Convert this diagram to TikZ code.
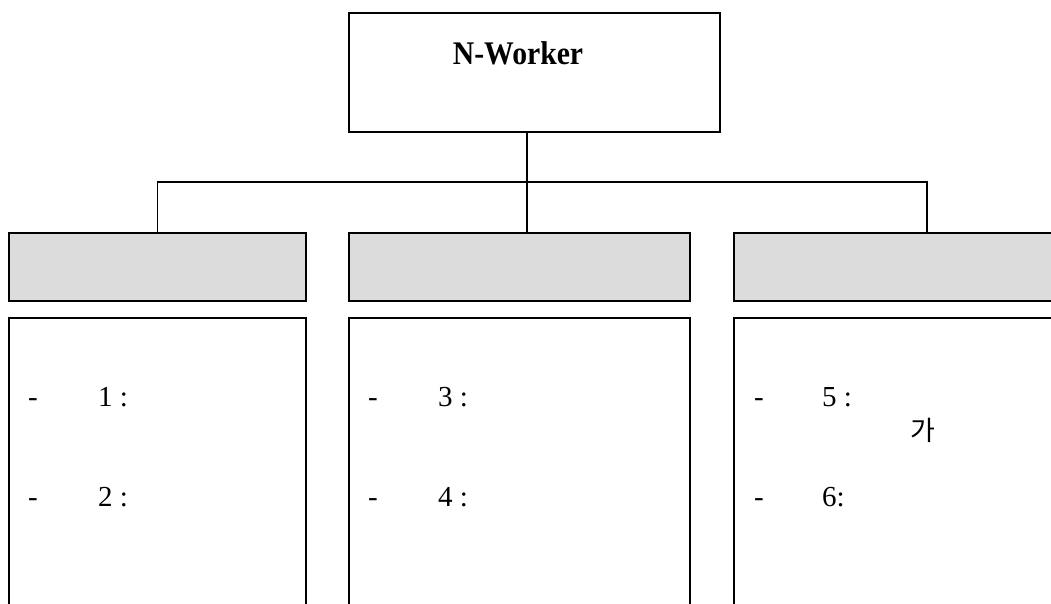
\documentclass[tikz,border=0pt]{standalone}
\usepackage{fontspec}
\setmainfont{Liberation Serif}
\newfontfamily\krfont{Noto Sans CJK KR}
\definecolor{headgray}{RGB}{220,220,220}
\begin{document}
\begin{tikzpicture}[x=1pt,y=-1pt,
  frame/.style={draw, line width=1.6pt, inner sep=0pt, anchor=north west},
  headbox/.style={frame, fill=headgray, minimum height=68pt},
  bodybox/.style={frame, minimum height=303pt},
  link/.style={line width=1.4pt},
  item/.style={anchor=base west, inner sep=0pt, font=\fontsize{29}{34}\selectfont},
  kr/.style={anchor=base west, inner sep=0pt, font=\krfont\fontsize{27}{31}\selectfont}
]
\useasboundingbox (0,0) rectangle (1051,604);
\clip (0,0) rectangle (1051,604);

% root box
\node[frame, minimum width=371pt, minimum height=119pt] (root) at (348,12) {};
\node[anchor=base, inner sep=0pt, font=\bfseries\fontsize{33}{38}\selectfont, xscale=0.9] (title) at (518,65) {N-Worker};

% header boxes
\node[headbox, minimum width=297pt] (h1) at (8,232) {};
\node[headbox, minimum width=341pt] (h2) at (348,232) {};
\node[headbox, minimum width=330pt] (h3) at (733,232) {};

% body boxes
\node[bodybox, minimum width=297pt] (b1) at (8,317) {};
\node[bodybox, minimum width=341pt] (b2) at (348,317) {};
\node[bodybox, minimum width=330pt] (b3) at (733,317) {};

% connectors
\coordinate (j) at (527,182);
\coordinate (r) at (927,232);
\draw[link] (j |- root.south) -- (j |- h2.north);
\draw[link] (h1.north) |- (j) -| (r);

% items, left column
\node[item] (d1) at (28,406) {-};
\node[item] (t1) at (98,406) {1 :};
\node[item] (d2) at (28,506) {-};
\node[item] (t2) at (98,506) {2 :};

% items, middle column
\node[item] (d3) at (368,406) {-};
\node[item] (t3) at (438,406) {3 :};
\node[item] (d4) at (368,506) {-};
\node[item] (t4) at (438,506) {4 :};

% items, right column
\node[item] (d5) at (754,406) {-};
\node[item] (t5) at (822,406) {5 :};
\node[kr] (k5) at (910,440) {가};
\node[item] (d6) at (754,506) {-};
\node[item] (t6) at (822,506) {6:};
\end{tikzpicture}
\end{document}
